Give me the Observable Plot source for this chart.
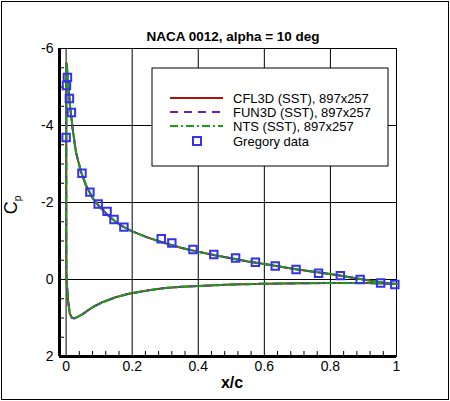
<!DOCTYPE html>
<html>
<head>
<meta charset="utf-8">
<script src="https://cdn.jsdelivr.net/npm/d3@7"></script>
<script src="https://cdn.jsdelivr.net/npm/@observablehq/plot@0.6"></script>
<style>
  body { margin: 0; background: white; }
  #chart svg { display: block; }
</style>
</head>
<body>
<div id="chart"></div>
<script>
// surface Cp, traced from trailing edge along the upper side, round the nose, back along the lower side
// (the three solvers lie on top of each other in the picture, so they share one trace)
const surfX = [1.0, 0.95, 0.9, 0.85, 0.8, 0.75, 0.7, 0.65, 0.6, 0.55, 0.5, 0.45, 0.4, 0.35, 0.3, 0.25, 0.2, 0.175, 0.15, 0.125, 0.1, 0.08, 0.06, 0.045, 0.03, 0.02, 0.012, 0.006, 0.003, 0.0015,
  0.0008, 0.0005, 0.0005, 0.0008, 0.002, 0.006, 0.011, 0.018, 0.025, 0.035, 0.05, 0.08, 0.11, 0.15, 0.19, 0.25, 0.3, 0.35, 0.4, 0.5, 0.6, 0.7, 0.8, 0.9, 1.0]
const surfCp = [0.12, 0.07, 0.0, -0.07, -0.14, -0.2, -0.26, -0.33, -0.4, -0.47, -0.55, -0.63, -0.72, -0.82, -0.94, -1.08, -1.25, -1.36, -1.5, -1.68, -1.9, -2.12, -2.45, -2.8, -3.3, -3.9, -4.5, -5.1, -5.45, -5.62,
  -5.2, -3.5, -1.5, -0.3, 0.1, 0.55, 0.88, 1.0, 1.01, 0.97, 0.9, 0.72, 0.59, 0.46, 0.37, 0.28, 0.22, 0.19, 0.17, 0.13, 0.11, 0.1, 0.09, 0.09, 0.11]

const gregoryX = [0.0, 0.001, 0.004, 0.01, 0.016, 0.048, 0.072, 0.097, 0.124, 0.145, 0.175, 0.288, 0.32, 0.384, 0.447, 0.513, 0.573, 0.633, 0.696, 0.764, 0.83, 0.89, 0.952, 0.995]
const gregoryCp = [-3.69, -5.04, -5.25, -4.7, -4.34, -2.76, -2.27, -1.96, -1.77, -1.56, -1.36, -1.06, -0.95, -0.78, -0.65, -0.56, -0.45, -0.35, -0.26, -0.16, -0.1, 0.0, 0.09, 0.13]

const solvers = ["CFL3D (SST), 897x257", "FUN3D (SST), 897x257", "NTS (SST), 897x257"]
const solverColors = ["#b01010", "#6a1fc4", "#17a017"]
const solverDash = [null, "8,6", "8,3,2,3"]
const gregoryLabel = "Gregory data"
const gregoryColor = "#3333ee"

const xDomain = [-0.02, 1]
const yDomain = [-6, 2]
const xTicks = [0, 0.2, 0.4, 0.6, 0.8, 1]
const yTicks = [-6, -4, -2, 0, 2]
const xMinor = d3.range(0, 1.001, 0.04).filter(v => Math.abs(v / 0.2 - Math.round(v / 0.2)) > 1e-6)
const yMinor = d3.range(-6, 2.001, 0.5).filter(v => v % 2 != 0)

const title = "NACA 0012, alpha = 10 deg"
const xLabel = "x/c"

const surface = surfX.map((x, i) => ({xc: x, cp: surfCp[i]}))
const gregory = gregoryX.map((x, i) => ({xc: x, cp: gregoryCp[i]}))

const W = 450, H = 401
const mL = 59, mR = 54, mT = 48, mB = 45

const chart = Plot.plot({
  width: W,
  height: H,
  marginLeft: mL,
  marginRight: mR,
  marginTop: mT,
  marginBottom: mB,
  style: {fontFamily: "'Liberation Sans', Arial, sans-serif", background: "white", color: "black"},
  x: {domain: xDomain},
  y: {domain: yDomain, reverse: true},
  marks: [
    Plot.gridX(xTicks, {stroke: "black", strokeOpacity: 1, strokeWidth: 1}),
    Plot.gridY(yTicks, {stroke: "black", strokeOpacity: 1, strokeWidth: 1}),
    Plot.tickX(xMinor, {stroke: "black", insetTop: H - mT - mB - 5}),
    Plot.tickY(yMinor, {stroke: "black", insetRight: W - mL - mR - 5}),
    Plot.frame({stroke: "black"}),
    Plot.ruleX([xDomain[0]], {stroke: "black", strokeWidth: 3}),
    Plot.ruleY([yDomain[1]], {stroke: "black", strokeWidth: 3}),
    Plot.axisX(xTicks, {tickSize: 0, tickPadding: 5, fontSize: 14, label: null, tickFormat: d => String(d)}),
    Plot.axisY(yTicks, {tickSize: 0, tickPadding: 6, fontSize: 14, label: null, tickFormat: d => String(d)}),
    ...solvers.map((s, i) => Plot.line(surface, {
      x: "xc", y: "cp", stroke: solverColors[i], strokeWidth: 2, strokeDasharray: solverDash[i]
    })),
    Plot.dot(gregory, {x: "xc", y: "cp", symbol: "square", r: 4.2, stroke: gregoryColor, strokeWidth: 2, fill: "none"}),
    Plot.text([title], {text: d => d, frameAnchor: "top", dy: -17, dx: 5, fontSize: 13.5, fontWeight: "bold"}),
    Plot.text([xLabel], {text: d => d, frameAnchor: "bottom", dy: 31, dx: 4, fontSize: 16, fontWeight: "bold"})
  ]
})

const svg = d3.select(chart)

// C_p label, rotated, with subscript
const yl = svg.append("text")
  .attr("transform", "translate(17,205) rotate(-90)")
  .attr("text-anchor", "middle")
  .attr("font-size", 18)
  .attr("fill", "black")
yl.append("tspan").text("C")
yl.append("tspan").attr("font-size", 10).attr("dy", 4).text("p")

// legend box
const lg = svg.append("g").attr("transform", "translate(152,68)").attr("text-anchor", "start")
lg.append("rect").attr("width", 236).attr("height", 98).attr("fill", "white").attr("stroke", "black")
const rows = [30, 44, 58, 73]
solvers.forEach((s, i) => {
  lg.append("line").attr("x1", 18).attr("x2", 71).attr("y1", rows[i]).attr("y2", rows[i])
    .attr("stroke", solverColors[i]).attr("stroke-width", 2)
    .attr("stroke-dasharray", solverDash[i])
  lg.append("text").attr("x", 81).attr("y", rows[i]).attr("dy", "0.35em")
    .attr("font-size", 13).attr("fill", "black").text(s)
})
lg.append("rect").attr("x", 41).attr("y", rows[3] - 4).attr("width", 8).attr("height", 8)
  .attr("fill", "none").attr("stroke", gregoryColor).attr("stroke-width", 2)
lg.append("text").attr("x", 81).attr("y", rows[3]).attr("dy", "0.35em")
  .attr("font-size", 13).attr("fill", "black").text(gregoryLabel)

// outer border
svg.append("rect").attr("x", 1.5).attr("y", 1.5).attr("width", W - 3).attr("height", H - 3)
  .attr("fill", "none").attr("stroke", "black")

d3.select('#chart').append(() => chart)
</script>
</body>
</html>
